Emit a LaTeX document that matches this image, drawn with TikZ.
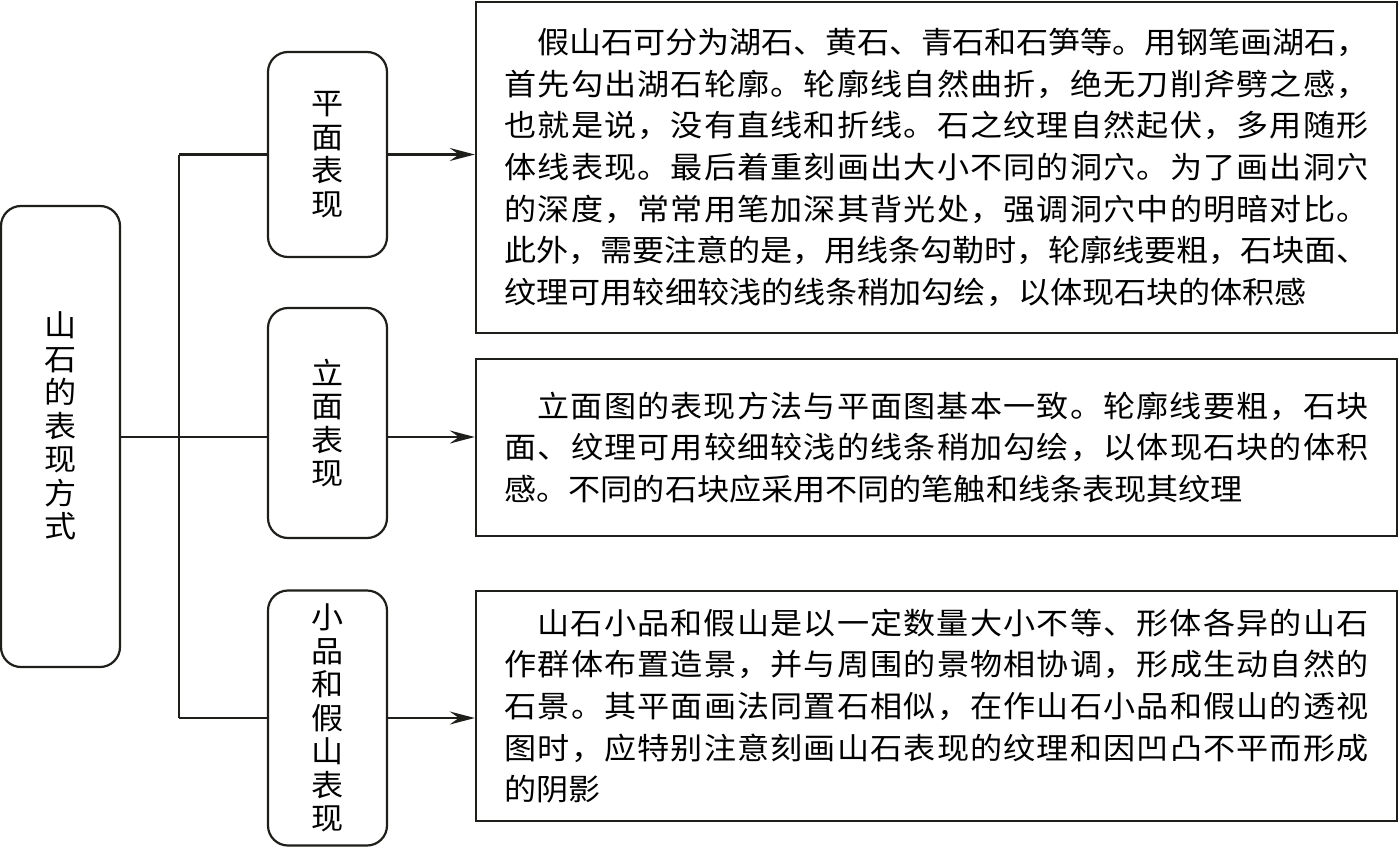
\documentclass[tikz,border=0pt]{standalone}
\usepackage{fontspec}
\usetikzlibrary{arrows.meta}
\newfontfamily\cjk[FakeStretch=1.07]{Noto Sans CJK SC}
\setlength\parindent{0pt}
\newlength\tw \setlength\tw{864pt}
\def\jlx#1{\ifx\relax#1\else#1\hskip0pt plus 1fil minus 1fil\relax\expandafter\jlx\fi}
\newcommand\jl[2][0pt]{\hspace*{#1}\makebox[\dimexpr\tw-#1\relax][s]{\jlx#2\relax\unskip}}
\definecolor{ink}{HTML}{1E1E1A}
\begin{document}
\begin{tikzpicture}[x=1pt,y=-1pt,
  rbox/.style={draw=ink, line width=2.2pt, rounded corners=20pt, minimum width=119pt,
    align=center, inner sep=0pt, text=black, font=\cjk\fontsize{30}{33.5}\selectfont},
  tbox/.style={draw=ink, line width=2.4pt, minimum width=921pt, text width=\tw, align=left,
    inner xsep=28.5pt, inner ysep=0pt, text=black, font=\cjk\fontsize{30}{41.7}\selectfont},
  link/.style={draw=ink, line width=2.2pt},
  arr/.style={link, -{Stealth[length=25pt,width=13pt,inset=9pt]}}]
\useasboundingbox (0,0) rectangle (1399,848);

\node[rbox, minimum height=461pt] (m) at (60.5,436.5) {山\\石\\的\\表\\现\\方\\式\\[-10pt]\mbox{}};
\node[rbox, minimum height=205pt] (s1) at (327.5,154.5) {平\\面\\表\\现};
\node[rbox, minimum height=230pt] (s2) at (327.5,423) {立\\面\\表\\现};
\node[rbox, minimum height=255pt] (s3) at (327.5,718) {小\\品\\和\\假\\山\\表\\现};

\node[tbox, minimum height=331pt] (t1) at (936.5,167.5) {%
\jl[33pt]{假山石可分为湖石、黄石、青石和石笋等。用钢笔画湖石，}\\
\jl{首先勾出湖石轮廓。轮廓线自然曲折，绝无刀削斧劈之感，}\\
\jl{也就是说，没有直线和折线。石之纹理自然起伏，多用随形}\\
\jl{体线表现。最后着重刻画出大小不同的洞穴。为了画出洞穴}\\
\jl{的深度，常常用笔加深其背光处，强调洞穴中的明暗对比。}\\
\jl{此外，需要注意的是，用线条勾勒时，轮廓线要粗，石块面、}\\
纹理可用较细较浅的线条稍加勾绘，以体现石块的体积感};

\node[tbox, minimum height=177pt] (t2) at (936.5,447.5) {%
\jl[33pt]{立面图的表现方法与平面图基本一致。轮廓线要粗，石块}\\
\jl{面、纹理可用较细较浅的线条稍加勾绘，以体现石块的体积}\\
感。不同的石块应采用不同的笔触和线条表现其纹理};

\node[tbox, minimum height=230pt] (t3) at (936.5,706) {%
\jl[33pt]{山石小品和假山是以一定数量大小不等、形体各异的山石}\\
\jl{作群体布置造景，并与周围的景物相协调，形成生动自然的}\\
\jl{石景。其平面画法同置石相似，在作山石小品和假山的透视}\\
\jl{图时，应特别注意刻画山石表现的纹理和因凹凸不平而形成}\\
的阴影};

\coordinate (jt) at (179,154.5);
\coordinate (jb) at (179,718);
\coordinate (jm) at (179,437);

\draw[link] (jt) -- (jb);
\draw[link] (jt) -- (s1.west);
\draw[link] (jb) -- (s3.west);
\draw[link] (m.east |- jm) -- (jm -| s2.west);

\draw[arr] (s1.east) -- (s1.east -| t1.west);
\draw[arr] (jm -| s2.east) -- (jm -| t2.west);
\draw[arr] (s3.east) -- (s3.east -| t3.west);
\end{tikzpicture}
\end{document}
